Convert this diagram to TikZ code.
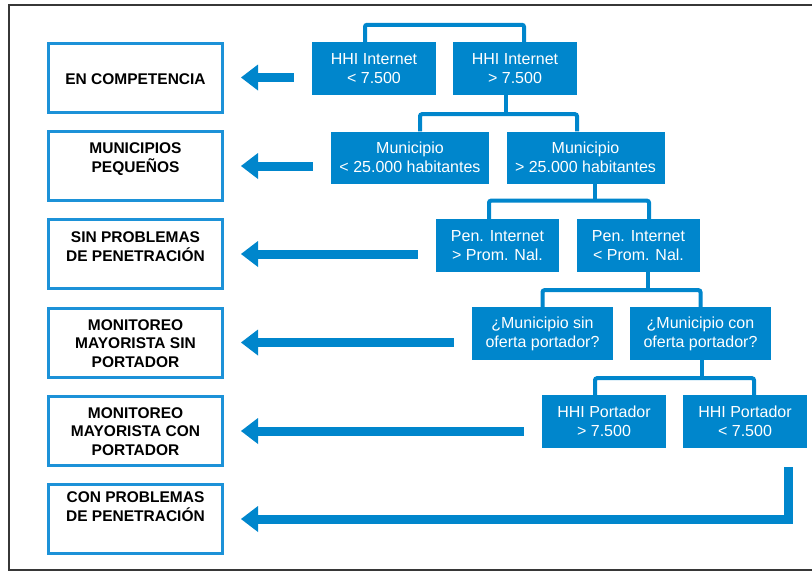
\documentclass[tikz,border=0pt]{standalone}
\usepackage{fontspec}
\setmainfont{Liberation Sans}
\usetikzlibrary{arrows.meta}
\definecolor{cfblue}{RGB}{0,134,204}
\definecolor{cfedge}{RGB}{28,146,216}
\definecolor{cfframe}{RGB}{55,55,55}
\tikzset{
  crit/.style={fill=cfblue, text=white, minimum height=53pt, inner sep=0pt, align=center, font=\fontsize{16}{19}\selectfont},
  result/.style={draw=cfedge, line width=3pt, minimum width=174pt, minimum height=69pt, inner sep=0pt},
  resulttext/.style={align=center, font=\fontsize{15.5}{18.5}\selectfont\bfseries},
  bus/.style={draw=cfblue, line width=4pt, rounded corners=2pt},
  toresult/.style={draw=cfblue, line width=9pt, -{Triangle[length=17pt,width=26pt,line width=0pt]}, shorten <=18pt, shorten >=17pt}
}
\begin{document}
\begin{tikzpicture}[x=1pt,y=1pt,yscale=-1,xscale=1]
\useasboundingbox (0,0) rectangle (812,573);

%Frame
\draw[cfframe, line width=1.5pt] (812,5) -- (9,5) -- (9,570) -- (812,570);

%Results column
\node[result] (res1) at (135.5,77.5) {};
\node[result] (res2) at (135.5,166) {};
\node[result] (res3) at (135.5,254) {};
\node[result] (res4) at (135.5,342.5) {};
\node[result] (res5) at (135.5,431) {};
\node[result] (res6) at (135.5,519) {};

\node[resulttext] (t1) at (135.5,79) {EN COMPETENCIA};
\node[resulttext] (t2) at (135.5,159) {MUNICIPIOS\\PEQUEÑOS};
\node[resulttext] (t3) at (135.5,246.5) {SIN PROBLEMAS\\DE PENETRACIÓN};
\node[resulttext] (t4) at (135.5,343.5) {MONITOREO\\MAYORISTA SIN\\PORTADOR};
\node[resulttext] (t5) at (135.5,431.5) {MONITOREO\\MAYORISTA CON\\PORTADOR};
\node[resulttext] (t6) at (135.5,506.5) {CON PROBLEMAS\\DE PENETRACIÓN};

%Criteria
\node[crit, minimum width=124pt] (hhilo) at (374,68.5) {HHI Internet\\< 7.500};
\node[crit, minimum width=124pt] (hhihi) at (515,68.5) {HHI Internet\\> 7.500};
\node[crit, minimum width=158pt, minimum height=52pt] (munlo) at (410,157.5) {Municipio\\< 25.000 habitantes};
\node[crit, minimum width=158pt, minimum height=52pt] (munhi) at (585.5,157.5) {Municipio\\> 25.000 habitantes};
\node[crit, minimum width=123pt] (penhi) at (497.5,245.5) {Pen. Internet\\> Prom. Nal.};
\node[crit, minimum width=123pt] (penlo) at (638.5,245.5) {Pen. Internet\\< Prom. Nal.};
\node[crit, minimum width=141pt] (sinof) at (542.5,333.5) {¿Municipio sin\\oferta portador?};
\node[crit, minimum width=141pt] (conof) at (700.5,333.5) {¿Municipio con\\oferta portador?};
\node[crit, minimum width=124pt] (portgt) at (604,421.5) {HHI Portador\\> 7.500};
\node[crit, minimum width=124pt] (portlt) at (745,421.5) {HHI Portador\\< 7.500};

%Branches
\draw[bus] ([xshift=-9pt]hhilo.north) -- ++(0,-17) -| ([xshift=9pt]hhihi.north);
\draw[bus] ([xshift=-9pt]hhihi.south) -- ++(0,19) coordinate (j2);
\draw[bus] ([xshift=10pt]munlo.north) |- (j2) -| ([xshift=-8.5pt]munhi.north);
\draw[bus] ([xshift=9.5pt]munhi.south) -- ++(0,17) coordinate (j3);
\draw[bus] ([xshift=-8.5pt]penhi.north) |- (j3) -| ([xshift=10.5pt]penlo.north);
\draw[bus] ([xshift=9.5pt]penlo.south) -- ++(0,18) coordinate (j4);
\draw[bus] (sinof.north) |- (j4) -| (conof.north);
\draw[bus] ([xshift=1.5pt]conof.south) -- ++(0,18) coordinate (j5);
\draw[bus] ([xshift=-9pt]portgt.north) |- (j5) -| ([xshift=9pt]portlt.north);

%Arrows to results
\draw[toresult] (hhilo.west |- res1) -- (res1);
\draw[toresult] (munlo.west |- res2) -- (res2);
\draw[toresult] (penhi.west |- res3) -- (res3);
\draw[toresult] (sinof.west |- res4) -- (res4);
\draw[toresult] (portgt.west |- res5) -- (res5);
\draw[toresult, shorten <=19pt] ([xshift=-19pt]portlt.south east) |- (res6);

\end{tikzpicture}
\end{document}
